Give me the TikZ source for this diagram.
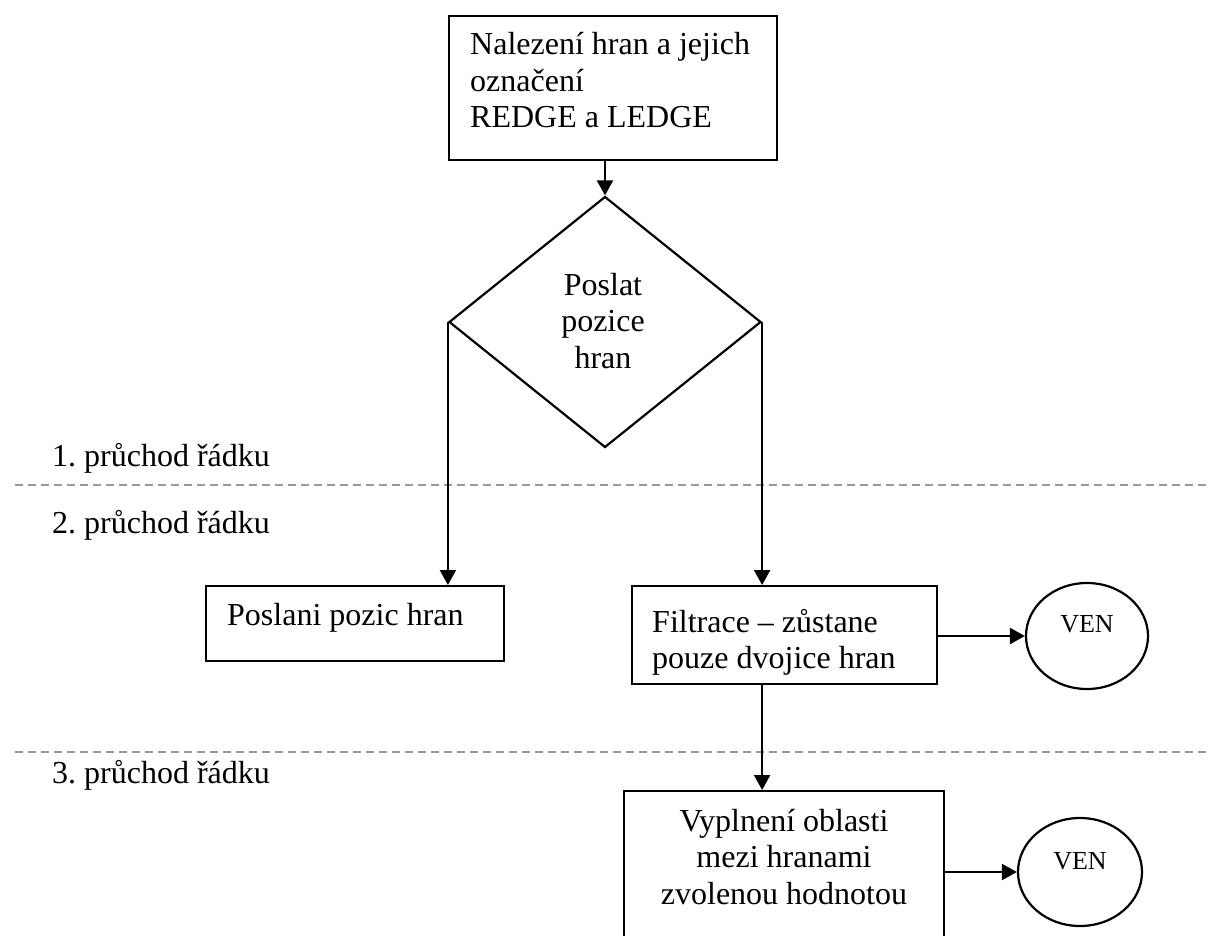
\documentclass[tikz,border=0pt]{standalone}
\usepackage{fontspec}
\setmainfont{Liberation Serif}
\usetikzlibrary{arrows.meta,shapes.geometric}
\newcommand\mainsize{\fontsize{32}{36.5}\selectfont}
\newcommand\vensize{\fontsize{26}{30}\selectfont}
\tikzset{
  outline/.style={draw, line width=2.2pt, inner sep=0pt},
  box/.style={outline, rectangle, anchor=north west},
  txt/.style={font=\mainsize, inner sep=0pt},
  arr/.style={line width=2.2pt, -{Triangle[length=15pt,width=16pt]}},
  pass/.style={draw=black!40, line width=1.6pt, dash pattern=on 8pt off 5pt},
}
\begin{document}
\begin{tikzpicture}[x=1pt,y=-1pt]
  \useasboundingbox (0,0) rectangle (1210,936);
  \clip (0,0) rectangle (1210,936);

  % pass separators
  \coordinate (s1l) at (15,485);
  \coordinate (s1r) at (1210,485);
  \coordinate (s2l) at (15,752);
  \coordinate (s2r) at (1210,752);
  \draw[pass] (s1l) -- (s1r);
  \draw[pass] (s2l) -- (s2r);

  \node[txt, anchor=base west] (lab1) at (52,466) {1.\ průchod řádku};
  \node[txt, anchor=base west] (lab2) at (52,533) {2.\ průchod řádku};
  \node[txt, anchor=base west] (lab3) at (52,783) {3.\ průchod řádku};

  % boxes (multi-line texts are placed by the baseline of their last line)
  \node[box, minimum width=328pt, minimum height=144pt] (top) at (448,15) {};
  \node[txt, anchor=base west, align=left] (toptext) at (470,128)
    {Nalezení hran a jejich\\označení\\REDGE a LEDGE};

  \node[outline, diamond, minimum width=312pt, minimum height=251pt] (dia) at (605,322) {};
  \node[txt, anchor=base, align=center] (diatext) at (603,368) {Poslat\\pozice\\hran};

  \node[box, minimum width=298pt, minimum height=75pt] (pos) at (205,585) {};
  \node[txt, anchor=base west] (postext) at (227,625) {Poslani pozic hran};

  \node[box, minimum width=305pt, minimum height=98pt] (fil) at (631,585) {};
  \node[txt, anchor=base west, align=left, font=\fontsize{32}{36}\selectfont] (filtext) at (652,668)
    {Filtrace – zůstane\\pouze dvojice hran};

  \node[box, minimum width=320pt, minimum height=180pt] (vyp) at (623,790) {};
  \node[txt, anchor=base, align=center] (vyptext) at (784,904)
    {Vyplnení oblasti\\mezi hranami\\zvolenou hodnotou};

  \node[outline, ellipse, minimum width=122pt, minimum height=106pt] (ven1) at (1087,636) {};
  \node[font=\vensize, inner sep=0pt, anchor=base] (ven1text) at (1087,632) {VEN};

  \node[outline, ellipse, minimum width=124pt, minimum height=108pt] (ven2) at (1080,872) {};
  \node[font=\vensize, inner sep=0pt, anchor=base] (ven2text) at (1080,869) {VEN};

  % connectors
  \draw[arr] (dia.north |- top.south) -- (dia.north);
  \draw[arr] (dia.west) -- (dia.west |- pos.north);
  \draw[arr] (dia.east) -- (dia.east |- fil.north);
  \draw[arr] (dia.east |- fil.south) -- (dia.east |- vyp.north);
  \draw[arr] (fil.east |- ven1.west) -- (ven1.west);
  \draw[arr] (vyp.east |- ven2.west) -- (ven2.west);
\end{tikzpicture}
\end{document}
